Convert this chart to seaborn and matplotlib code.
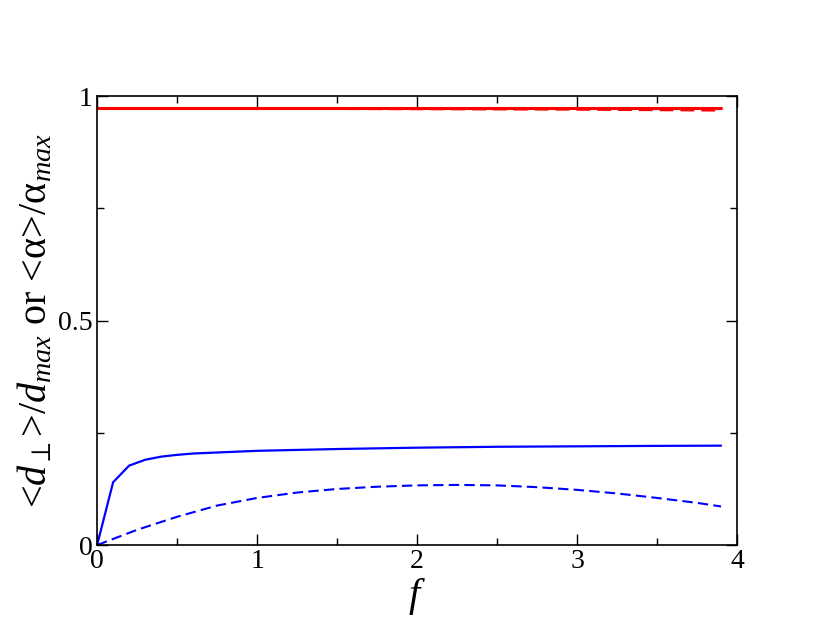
import matplotlib
matplotlib.use("Agg")
import matplotlib.pyplot as plt
import seaborn as sns
import pandas as pd
from matplotlib.ticker import MultipleLocator, FixedLocator, FixedFormatter

# Data
f_solid_blue = [0, 0.1, 0.2, 0.3, 0.4, 0.5, 0.6, 0.8, 1.0, 1.5, 2.0, 2.5, 3.0, 3.5, 3.9]
d_solid_blue = [0, 0.140, 0.177, 0.190, 0.197, 0.201, 0.204, 0.207, 0.210, 0.214, 0.217, 0.219, 0.220, 0.221, 0.2215]

f_dash_blue = [0, 0.25, 0.5, 0.75, 1.0, 1.25, 1.5, 1.75, 2.0, 2.25, 2.5, 2.75, 3.0, 3.25, 3.5, 3.75, 3.9]
d_dash_blue = [0, 0.034, 0.063, 0.088, 0.105, 0.117, 0.125, 0.130, 0.133, 0.134, 0.133, 0.129, 0.123, 0.115, 0.105, 0.094, 0.086]

f_red = [0, 1.0, 2.0, 3.0, 3.9]
a_solid_red = [0.974, 0.974, 0.974, 0.974, 0.974]
a_dash_red = [0.973, 0.973, 0.972, 0.971, 0.969]

x_ticks = [0, 1, 2, 3, 4]
y_ticks = [0, 0.5, 1]
y_tick_labels = ["0", "0.5", "1"]

sns.set_style("ticks")
plt.rcParams['font.family'] = ['Liberation Serif', 'DejaVu Serif']
plt.rcParams['mathtext.fontset'] = 'custom'
plt.rcParams['mathtext.rm'] = 'Liberation Serif'
plt.rcParams['mathtext.it'] = 'Liberation Serif:italic'
plt.rcParams['text.color'] = 'black'
plt.rcParams['axes.labelcolor'] = 'black'
plt.rcParams['xtick.color'] = 'black'
plt.rcParams['ytick.color'] = 'black'

fig = plt.figure(figsize=(8.3, 6.42), dpi=100)
ax = fig.add_axes([0.117, 0.151, 0.771, 0.699])

sns.lineplot(x=f_dash_blue, y=d_dash_blue, ax=ax, color="#0000ff", lw=1.5,
             linestyle=(0, (5, 2.5)))
sns.lineplot(x=f_solid_blue, y=d_solid_blue, ax=ax, color="#0000ff", lw=1.6)
sns.lineplot(x=f_red, y=a_dash_red, ax=ax, color="#ff0000", lw=2.0, linestyle=(0, (5, 2.5)))
sns.lineplot(x=f_red, y=a_solid_red, ax=ax, color="#ff0000", lw=2.2)

ax.set_xlim(0, 4)
ax.set_ylim(0, 1)
ax.xaxis.set_major_locator(FixedLocator(x_ticks))
ax.xaxis.set_minor_locator(MultipleLocator(0.5))
ax.yaxis.set_major_locator(FixedLocator(y_ticks))
ax.yaxis.set_major_formatter(FixedFormatter(y_tick_labels))
ax.yaxis.set_minor_locator(MultipleLocator(0.25))
ax.tick_params(which='both', direction='in', top=True, right=True, labelsize=20, width=1, pad=3,
               colors='black')
ax.tick_params(which='major', length=8)
ax.tick_params(which='minor', length=5)
for s in ax.spines.values():
    s.set_linewidth(1.2)
    s.set_color('black')

ax.set_xlabel(r'$f$', fontsize=29, labelpad=1, color='black')
ax.set_ylabel(r'<$d_{\perp}$>/$d_{max}$ or <α>/α$_{max}$', fontsize=29, labelpad=2, color='black')

fig.savefig("out.png", dpi=100)
